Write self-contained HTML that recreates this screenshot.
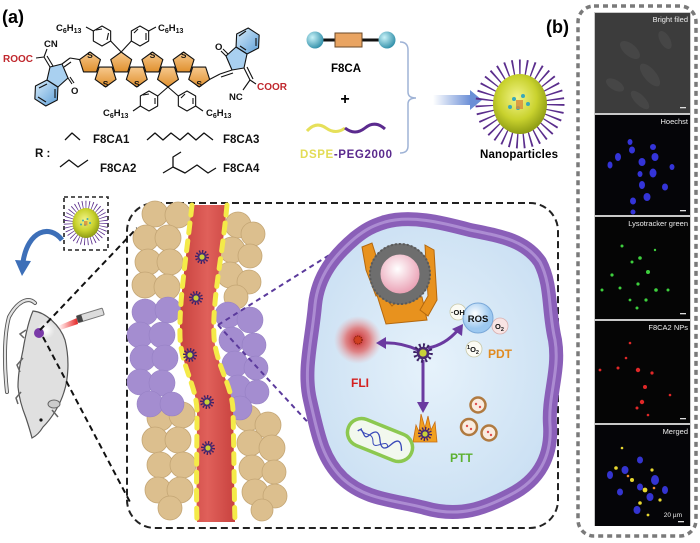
<!DOCTYPE html>
<html><head><meta charset="utf-8"><style>
html,body{margin:0;padding:0;background:#fff;}
svg{display:block;font-family:"Liberation Sans",Arial,sans-serif;}
</style></head><body>
<svg width="700" height="543" viewBox="0 0 700 543" xmlns="http://www.w3.org/2000/svg">
<defs>
<radialGradient id="npg" cx="0.45" cy="0.4" r="0.6"><stop offset="0" stop-color="#f2f48a"/><stop offset="0.6" stop-color="#c9d22e"/><stop offset="1" stop-color="#8e9c14"/></radialGradient>
<linearGradient id="org" x1="0" y1="0" x2="0" y2="1"><stop offset="0" stop-color="#f7c98e"/><stop offset="1" stop-color="#e0902e"/></linearGradient>
<linearGradient id="blu" x1="0" y1="0" x2="1" y2="1"><stop offset="0" stop-color="#d8ecfa"/><stop offset="1" stop-color="#5e9fd8"/></linearGradient>
<radialGradient id="teal" cx="0.35" cy="0.35" r="0.7"><stop offset="0" stop-color="#c8f2f8"/><stop offset="1" stop-color="#2f8ea8"/></radialGradient>
<linearGradient id="arr" x1="0" y1="0" x2="1" y2="0"><stop offset="0" stop-color="#ffffff"/><stop offset="1" stop-color="#6a8ed6"/></linearGradient>
<linearGradient id="ves" x1="0" y1="0" x2="1" y2="0"><stop offset="0" stop-color="#c8423e"/><stop offset="0.5" stop-color="#e0605a"/><stop offset="1" stop-color="#c8423e"/></linearGradient>
<radialGradient id="fli"><stop offset="0" stop-color="#c82424"/><stop offset="0.5" stop-color="#e06a6a" stop-opacity="0.8"/><stop offset="1" stop-color="#f0a0a0" stop-opacity="0"/></radialGradient>
<radialGradient id="pink" cx="0.45" cy="0.4"><stop offset="0" stop-color="#ffffff"/><stop offset="1" stop-color="#eaa0b4"/></radialGradient>
<radialGradient id="bub" cx="0.4" cy="0.35"><stop offset="0" stop-color="#ffffff"/><stop offset="1" stop-color="#9cc8f0"/></radialGradient>
<linearGradient id="beam" x1="0" y1="0" x2="1" y2="0"><stop offset="0" stop-color="#ff4040" stop-opacity="0"/><stop offset="1" stop-color="#e02020"/></linearGradient>
<radialGradient id="cellin" cx="0.5" cy="0.5" r="0.6"><stop offset="0" stop-color="#e6f2fb"/><stop offset="1" stop-color="#c8def2"/></radialGradient>
<radialGradient id="flash"><stop offset="0" stop-color="#ffffff"/><stop offset="1" stop-color="#ffffff" stop-opacity="0"/></radialGradient>
<g id="np">
<circle r="35" fill="none" stroke="#5a2d8c" stroke-width="19" stroke-dasharray="1.5 4.8"/>
<ellipse rx="27" ry="30" fill="url(#npg)"/>
<circle cx="-6" cy="-5" r="2" fill="#3aa8b8"/><circle cx="3" cy="-8" r="2" fill="#3aa8b8"/><circle cx="8" cy="0" r="2" fill="#3aa8b8"/><circle cx="-2" cy="4" r="2" fill="#3aa8b8"/><circle cx="-10" cy="3" r="2" fill="#3aa8b8"/>
<rect x="-4" y="-4" width="7" height="9" fill="#d88a3a" opacity="0.8"/>
</g>
<g id="snp">
<circle r="5" fill="none" stroke="#3e2266" stroke-width="4" stroke-dasharray="1.2 1.4"/>
<circle r="4.5" fill="#4a2a74"/>
<circle r="2.6" fill="#c8d238"/>
</g>
</defs>

<!-- ===== (a) top: chemical structure ===== -->
<text x="2" y="23" font-size="18" font-weight="bold">(a)</text>

<g stroke="#111" stroke-width="1.1" stroke-linejoin="round">
<g fill="url(#org)">
<polygon points="90,52 100.46,59.6 96.47,71.9 83.53,71.9 79.54,59.6"/>
<polygon points="105.6,87 116.06,79.4 112.07,67.1 99.13,67.1 95.14,79.4"/>
<polygon points="121.2,52 131.66,59.6 127.67,71.9 114.73,71.9 110.74,59.6"/>
<polygon points="136.8,87 147.26,79.4 143.27,67.1 130.33,67.1 126.34,79.4"/>
<polygon points="152.4,52 162.86,59.6 158.87,71.9 145.93,71.9 141.94,59.6"/>
<polygon points="168,87 178.46,79.4 174.47,67.1 161.53,67.1 157.54,79.4"/>
<polygon points="183.6,52 194.06,59.6 190.07,71.9 177.13,71.9 173.14,59.6"/>
<polygon points="199.2,87 209.66,79.4 205.67,67.1 192.73,67.1 188.74,79.4"/>
</g>
<g fill="#fff">
<polygon points="102,26 110.66,31 110.66,41 102,46 93.34,41 93.34,31"/>
<polygon points="140,26 148.66,31 148.66,41 140,46 131.34,41 131.34,31"/>
<polygon points="149,91 157.66,96 157.66,106 149,111 140.34,106 140.34,96"/>
<polygon points="187,91 195.66,96 195.66,106 187,111 178.34,106 178.34,96"/>
</g>
<g fill="none">
<polyline points="96,30 102,29"/><polyline points="107,40 108.5,33"/>
<polyline points="134,33 138,29"/><polyline points="146,40 146,33"/>
<polyline points="143,95 149,94"/><polyline points="155,104 155,98"/>
<polyline points="181,98 185,94"/><polyline points="193,104 193,98"/>
<line x1="121.2" y1="52" x2="110.66" y2="41"/>
<line x1="121.2" y1="52" x2="131.34" y2="41"/>
<line x1="168" y1="87" x2="157.66" y2="96"/>
<line x1="168" y1="87" x2="178.34" y2="96"/>
<line x1="93.34" y1="31" x2="86" y2="27"/>
<line x1="148.66" y1="31" x2="156" y2="27"/>
<line x1="140.34" y1="106" x2="133" y2="111"/>
<line x1="195.66" y1="106" x2="203" y2="111"/>
</g>
<polygon points="57.95,87.04 57.34,100.02 45.79,105.99 34.85,98.96 35.46,85.98 47.01,80.01" fill="url(#blu)"/>
<polygon points="62,64 68,78 58,87 47,80 50,67" fill="#a9d0f0"/>
<g fill="none">
<polyline points="39,88 47,84"/><polyline points="38,97 46,102"/><polyline points="55,89 55,98"/>
<line x1="62" y1="64" x2="70" y2="58"/><line x1="64" y1="67" x2="71" y2="62"/>
<line x1="70" y1="58" x2="79.54" y2="59.6"/>
<line x1="68" y1="78" x2="72" y2="84"/><line x1="70" y1="77" x2="74" y2="83"/>
<line x1="50" y1="67" x2="44" y2="57"/><line x1="53" y1="66" x2="47" y2="56"/>
<line x1="44" y1="57" x2="36" y2="58"/>
<line x1="44" y1="57" x2="47" y2="49"/>
</g>
<polygon points="236.05,46.96 236.66,33.98 248.21,28.01 259.15,35.04 258.54,48.02 246.99,53.99" fill="url(#blu)"/>
<polygon points="232,70 226,56 236,47 247,54 244,68" fill="#a9d0f0"/>
<g fill="none">
<polyline points="239,36 246,31"/><polyline points="256,38 256,46"/><polyline points="240,46 246,50"/>
<line x1="209.66" y1="79.4" x2="220" y2="74"/>
<line x1="220" y1="74" x2="232" y2="70"/><line x1="221" y1="77" x2="233" y2="73"/>
<line x1="226" y1="56" x2="221" y2="51"/><line x1="228" y1="54" x2="223" y2="49"/>
<line x1="244" y1="68" x2="250" y2="80"/><line x1="247" y1="67" x2="253" y2="79"/>
<line x1="250" y1="80" x2="256" y2="84"/>
<line x1="250" y1="80" x2="243" y2="90"/>
</g>
</g>
<g font-size="8.5" font-weight="bold" text-anchor="middle" fill="#111">
<text x="90" y="58">S</text><text x="105.6" y="87">S</text><text x="136.8" y="87">S</text>
<text x="152.4" y="58">S</text><text x="183.6" y="58">S</text><text x="199.2" y="87">S</text>
</g>
<g font-size="9.5" font-weight="bold" fill="#111">
<text x="56" y="31">C<tspan font-size="7" dy="2">6</tspan><tspan dy="-2">H</tspan><tspan font-size="7" dy="2">13</tspan></text>
<text x="158" y="31">C<tspan font-size="7" dy="2">6</tspan><tspan dy="-2">H</tspan><tspan font-size="7" dy="2">13</tspan></text>
<text x="103" y="116">C<tspan font-size="7" dy="2">6</tspan><tspan dy="-2">H</tspan><tspan font-size="7" dy="2">13</tspan></text>
<text x="206" y="116">C<tspan font-size="7" dy="2">6</tspan><tspan dy="-2">H</tspan><tspan font-size="7" dy="2">13</tspan></text>
<text x="44" y="47">CN</text>
<text x="229" y="100">NC</text>
<text x="71" y="94">O</text>
<text x="215" y="50">O</text>
</g>
<g font-size="10" font-weight="bold" fill="#c0272d">
<text x="3" y="62">ROOC</text>
<text x="257" y="90">COOR</text>
</g>
<g stroke="#111" stroke-width="1.3" fill="none" stroke-linejoin="round">
<polyline points="65,140 72,133 80,140"/>
<polyline points="147,140 155,133 163,140 171,133 180,140 188,133 196,140 204,133 213,140"/>
<polyline points="60,167 69,160 78,167 88,160"/>
<polyline points="163,173 173,167 185,173 197,165 208,173 216,168"/>
<polyline points="173,167 173,157 181,152"/>
</g>
<g font-size="11.5" font-weight="bold" fill="#111">
<text x="35" y="157">R :</text>
<text x="93" y="143">F8CA1</text>
<text x="223" y="143">F8CA3</text>
<text x="100" y="172">F8CA2</text>
<text x="223" y="172">F8CA4</text>
</g>

<!-- F8CA schematic -->
<line x1="315" y1="40" x2="387" y2="40" stroke="#111" stroke-width="3"/>
<rect x="335" y="33" width="27" height="14" fill="#e9a462" stroke="#6b4a2a" stroke-width="1"/>
<circle cx="315" cy="40" r="8.5" fill="url(#teal)"/>
<circle cx="387" cy="40" r="8.5" fill="url(#teal)"/>
<text x="346" y="72" font-size="11.5" font-weight="bold" text-anchor="middle">F8CA</text>
<text x="345" y="104" font-size="16" font-weight="bold" text-anchor="middle">+</text>
<path d="M307,131 Q316,121 326,128 T345,128" stroke="#e6e05a" stroke-width="3" fill="none"/>
<path d="M345,128 Q355,136 365,128 T385,129" stroke="#5b2a8e" stroke-width="3" fill="none"/>
<text x="300" y="158" font-size="11.5" font-weight="bold" textLength="92"><tspan fill="#e3dc56">DSPE</tspan><tspan fill="#5b2a8e">-PEG2000</tspan></text>
<path d="M400,42 Q408,42 408,50 L408,92 Q408,98 416,98 Q408,98 408,104 L408,146 Q408,153 400,153" stroke="#9fb3d6" stroke-width="1.5" fill="none"/>
<rect x="433" y="95" width="38" height="10" fill="url(#arr)"/>
<polygon points="470,90 482,100 470,110" fill="#6a8ed6"/>
<use href="#np" transform="translate(520,104)"/>
<text x="519" y="158" font-size="11.5" font-weight="bold" text-anchor="middle" textLength="78">Nanoparticles</text>

<!-- ===== (b) panel ===== -->
<text x="546" y="33" font-size="18" font-weight="bold">(b)</text>
<rect x="578" y="6" width="118" height="530" rx="16" fill="none" stroke="#7a7a7a" stroke-width="3.5" stroke-dasharray="5 4"/>
<rect x="594" y="12" width="97" height="514" fill="#c8c8c8"/>
<rect x="595" y="13" width="95" height="100" fill="#3c3c3c"/>
<g fill="#4e4e4e" opacity="0.6">
<ellipse cx="630" cy="50" rx="12" ry="6" transform="rotate(40 630 50)"/><ellipse cx="650" cy="75" rx="14" ry="6" transform="rotate(50 650 75)"/>
<ellipse cx="615" cy="85" rx="10" ry="5" transform="rotate(30 615 85)"/><ellipse cx="665" cy="40" rx="10" ry="5" transform="rotate(60 665 40)"/>
<ellipse cx="640" cy="100" rx="12" ry="5" transform="rotate(45 640 100)"/>
</g>
<rect x="595" y="115" width="95" height="100" fill="#050508"/>
<g fill="#3434d8">
<ellipse cx="618" cy="157" rx="3" ry="4"/><ellipse cx="632" cy="150" rx="3" ry="3.5"/><ellipse cx="642" cy="162" rx="3.5" ry="4"/>
<ellipse cx="655" cy="157" rx="3.5" ry="4"/><ellipse cx="653" cy="173" rx="3.5" ry="4.5"/><ellipse cx="642" cy="185" rx="3" ry="4"/>
<ellipse cx="647" cy="197" rx="3.5" ry="4"/><ellipse cx="633" cy="201" rx="3" ry="3.5"/><ellipse cx="665" cy="187" rx="3" ry="3.5"/>
<ellipse cx="610" cy="165" rx="2.5" ry="3.5"/><ellipse cx="630" cy="142" rx="2.5" ry="3"/><ellipse cx="653" cy="147" rx="3" ry="3"/>
<ellipse cx="672" cy="167" rx="2.5" ry="3"/><ellipse cx="640" cy="174" rx="2.5" ry="3"/><ellipse cx="633" cy="212" rx="2.5" ry="2.5"/>
</g>
<rect x="595" y="217" width="95" height="102" fill="#050505"/>
<g fill="#3ed03e">
<circle cx="622" cy="246" r="1.5"/><circle cx="640" cy="258" r="1.8"/><circle cx="632" cy="262" r="1.5"/><circle cx="612" cy="275" r="1.6"/>
<circle cx="648" cy="272" r="2"/><circle cx="638" cy="284" r="1.6"/><circle cx="620" cy="288" r="1.5"/><circle cx="602" cy="290" r="1.5"/>
<circle cx="656" cy="290" r="1.8"/><circle cx="646" cy="300" r="1.6"/><circle cx="668" cy="290" r="1.5"/><circle cx="637" cy="308" r="1.5"/>
<circle cx="630" cy="300" r="1.4"/><circle cx="655" cy="250" r="1.2"/>
</g>
<rect x="595" y="321" width="95" height="102" fill="#050505"/>
<g fill="#e02828">
<circle cx="638" cy="370" r="2.2"/><circle cx="645" cy="387" r="2"/><circle cx="642" cy="402" r="2.2"/><circle cx="618" cy="368" r="1.5"/>
<circle cx="630" cy="343" r="1.3"/><circle cx="600" cy="370" r="1.4"/><circle cx="652" cy="373" r="1.6"/><circle cx="637" cy="408" r="1.5"/>
<circle cx="670" cy="395" r="1.3"/><circle cx="626" cy="358" r="1.3"/><circle cx="648" cy="415" r="1.3"/>
</g>
<rect x="595" y="425" width="95" height="101" fill="#050508"/>
<g fill="#3434d0">
<ellipse cx="610" cy="475" rx="3" ry="4"/><ellipse cx="625" cy="470" rx="3.5" ry="4"/><ellipse cx="640" cy="460" rx="3" ry="3.5"/>
<ellipse cx="655" cy="480" rx="4" ry="5"/><ellipse cx="650" cy="497" rx="3.5" ry="4"/><ellipse cx="665" cy="490" rx="3" ry="4"/>
<ellipse cx="640" cy="487" rx="3" ry="3.5"/><ellipse cx="637" cy="510" rx="3.5" ry="4"/><ellipse cx="620" cy="492" rx="3" ry="3.5"/>
</g>
<g fill="#e8d830">
<circle cx="616" cy="468" r="1.8"/><circle cx="632" cy="480" r="2"/><circle cx="645" cy="490" r="2.4"/><circle cx="652" cy="470" r="1.6"/>
<circle cx="640" cy="503" r="1.8"/><circle cx="660" cy="500" r="1.6"/><circle cx="622" cy="448" r="1.3"/><circle cx="648" cy="515" r="1.4"/>
</g>
<g fill="#ee8a2a"><circle cx="628" cy="476" r="1.3"/><circle cx="654" cy="488" r="1.3"/></g>
<g fill="#eee" font-size="7.5" text-anchor="end">
<text x="688" y="22">Bright filed</text>
<text x="688" y="124">Hoechst</text>
<text x="688" y="226">Lysotracker green</text>
<text x="688" y="330">F8CA2 NPs</text>
<text x="688" y="434">Merged</text>
<text x="682" y="517" font-size="6.5">20 µm</text>
</g>
<g fill="#ddd">
<rect x="680" y="107" width="6" height="1.3"/><rect x="680" y="210" width="6" height="1.3"/><rect x="680" y="313" width="6" height="1.3"/>
<rect x="680" y="418" width="6" height="1.3"/><rect x="678" y="521" width="6" height="1.3"/>
</g>

<!-- ===== lower part ===== -->
<rect x="127" y="203" width="431" height="325" rx="28" fill="none" stroke="#222" stroke-width="2" stroke-dasharray="7 4"/>

<!-- mouse -->
<path d="M35,303 C28,296 17,302 9,317 C4,335 4,365 7,392" stroke="#555" stroke-width="4" fill="none" stroke-linecap="round"/>
<path d="M35,303 C28,296 17,302 9,317 C4,335 4,365 7,392" stroke="#e2e2e2" stroke-width="2.2" fill="none" stroke-linecap="round"/>
<path d="M33,311 C45,312 60,325 65,340 C70,360 68,380 64,392 C60,405 52,418 43,427 C40,432 36,436 32,438 C30,430 28,424 26,418 C22,408 19,398 18,387 C18,372 21,360 23,350 C25,338 28,322 33,311 Z" fill="#e0e0e0" stroke="#555" stroke-width="1.2"/>
<path d="M26,330 L20,334 L24,338 M23,358 L17,365 L20,372 M21,392 L16,398 L18,404 M52,410 L58,417" stroke="#666" stroke-width="1.5" fill="none"/>
<ellipse cx="54" cy="404" rx="6" ry="4" fill="#cccccc" stroke="#666" stroke-width="1"/>
<circle cx="41" cy="420" r="1.6" fill="#111"/>
<circle cx="46" cy="330" r="9" fill="url(#flash)"/>
<circle cx="39" cy="333" r="5" fill="#7a3aa8"/>
<polygon points="58,326 77,318 78,324 60,330" fill="url(#beam)"/>
<g transform="rotate(-17 90 316)"><rect x="77" y="312" width="27" height="7" rx="1" fill="#dcdcdc" stroke="#777" stroke-width="1"/><rect x="77" y="312" width="5" height="7" fill="#444"/></g>
<!-- blue curved arrow -->
<path d="M62,240 C50,224 28,230 23,262" stroke="#3d6fb8" stroke-width="5" fill="none"/>
<polygon points="15,260 31,261 22,276" fill="#3d6fb8"/>
<!-- small NP box -->
<rect x="64" y="197" width="44" height="53" fill="none" stroke="#222" stroke-width="1.6" stroke-dasharray="4 3"/>
<use href="#np" transform="translate(86,223) scale(0.5)"/>
<line x1="40" y1="330" x2="137" y2="228" stroke="#111" stroke-width="2" stroke-dasharray="6 4"/>
<line x1="43" y1="337" x2="130" y2="502" stroke="#111" stroke-width="2" stroke-dasharray="6 4"/>

<!-- tissue clusters -->
<g fill="#dcbf8e" stroke="#c4a675" stroke-width="0.8">
<circle cx="155" cy="214" r="13"/><circle cx="178" cy="215" r="13"/><circle cx="146" cy="238" r="13"/><circle cx="168" cy="238" r="13"/>
<circle cx="148" cy="262" r="13"/><circle cx="170" cy="262" r="13"/><circle cx="145" cy="285" r="13"/><circle cx="167" cy="287" r="13"/>
<circle cx="238" cy="225" r="13"/><circle cx="253" cy="234" r="12"/><circle cx="232" cy="250" r="13"/><circle cx="250" cy="256" r="12"/>
<circle cx="230" cy="275" r="13"/><circle cx="249" cy="282" r="12"/><circle cx="236" cy="297" r="12"/>
<circle cx="160" cy="418" r="13"/><circle cx="182" cy="415" r="13"/><circle cx="155" cy="440" r="13"/><circle cx="178" cy="440" r="13"/>
<circle cx="160" cy="465" r="13"/><circle cx="183" cy="465" r="13"/><circle cx="158" cy="490" r="13"/><circle cx="180" cy="490" r="13"/><circle cx="170" cy="508" r="12"/>
<circle cx="248" cy="418" r="13"/><circle cx="268" cy="425" r="13"/><circle cx="250" cy="443" r="13"/><circle cx="272" cy="448" r="13"/>
<circle cx="252" cy="468" r="13"/><circle cx="274" cy="472" r="12"/><circle cx="255" cy="492" r="13"/><circle cx="275" cy="496" r="12"/><circle cx="262" cy="510" r="11"/>
</g>
<g fill="#a48dd0" stroke="#9680c4" stroke-width="0.6">
<circle cx="145" cy="312" r="13"/><circle cx="168" cy="310" r="13"/><circle cx="140" cy="335" r="13"/><circle cx="162" cy="335" r="13"/>
<circle cx="143" cy="358" r="13"/><circle cx="165" cy="358" r="13"/><circle cx="140" cy="382" r="13"/><circle cx="162" cy="383" r="13"/>
<circle cx="150" cy="404" r="13"/><circle cx="172" cy="404" r="12"/>
<circle cx="228" cy="315" r="13"/><circle cx="250" cy="320" r="13"/><circle cx="232" cy="340" r="13"/><circle cx="254" cy="345" r="12"/>
<circle cx="235" cy="364" r="13"/><circle cx="256" cy="368" r="12"/><circle cx="238" cy="388" r="13"/><circle cx="257" cy="392" r="12"/><circle cx="240" cy="408" r="12"/>
</g>
<!-- vessel -->
<path d="M192,205 L227,205 C222,260 212,300 214,337 C216,365 232,385 233,410 C234,450 234,490 235,522 L197,522 C196,490 197,450 197,410 C196,385 181,365 180,337 C179,300 186,260 192,205 Z" fill="url(#ves)"/>
<path d="M192,205 C186,260 179,300 180,337 C181,365 196,385 197,410 C197,450 196,490 197,522" stroke="#f4ea48" stroke-width="5" fill="none" stroke-dasharray="10 8" stroke-linecap="round"/>
<path d="M227,205 C222,260 212,300 214,337 C216,365 232,385 233,410 C234,450 234,490 235,522" stroke="#f4ea48" stroke-width="5" fill="none" stroke-dasharray="10 8" stroke-linecap="round"/>
<use href="#snp" transform="translate(202,257)"/>
<use href="#snp" transform="translate(196,298)"/>
<use href="#snp" transform="translate(190,355)"/>
<use href="#snp" transform="translate(207,402)"/>
<use href="#snp" transform="translate(208,448)"/>

<line x1="218" y1="325" x2="393" y2="215" stroke="#5b3a9c" stroke-width="2" stroke-dasharray="5 4"/>
<line x1="218" y1="325" x2="363" y2="482" stroke="#5b3a9c" stroke-width="2" stroke-dasharray="5 4"/>

<!-- cell -->
<path d="M385,222 C410,215 440,222 470,230 C500,236 525,240 540,262 C552,285 548,310 555,340 C560,370 548,395 550,425 C552,455 540,480 510,495 C485,508 460,518 425,508 C395,500 365,500 342,478 C322,458 318,435 310,400 C303,370 312,340 315,305 C318,275 335,255 355,238 C365,230 372,226 385,222 Z" fill="url(#cellin)" stroke="#8a5fb8" stroke-width="14"/>
<path d="M385,222 C410,215 440,222 470,230 C500,236 525,240 540,262 C552,285 548,310 555,340 C560,370 548,395 550,425 C552,455 540,480 510,495 C485,508 460,518 425,508 C395,500 365,500 342,478 C322,458 318,435 310,400 C303,370 312,340 315,305 C318,275 335,255 355,238 C365,230 372,226 385,222 Z" fill="none" stroke="#b497d8" stroke-width="3" opacity="0.8"/>
<g fill="#e8921e" stroke="#b4680e" stroke-width="1">
<path d="M362,247 L372,243 L378,262 L374,268 L383,292 L376,296 L366,270 Z"/>
<path d="M376,292 L422,297 L427,320 L386,324 Z"/>
<path d="M425,245 L434,250 L437,300 L428,316 L420,310 L428,296 Z"/>
<path d="M384,284 L398,300 L392,306 L380,292 Z"/>
</g>
<circle cx="400" cy="274" r="25" fill="url(#pink)" stroke="#6e6e6e" stroke-width="11"/>
<circle cx="400" cy="274" r="30" fill="none" stroke="#5a5a5a" stroke-width="2" stroke-dasharray="2 2"/>
<circle cx="358" cy="340" r="24" fill="url(#fli)"/>
<circle cx="358" cy="340" r="4" fill="#d04020" stroke="#8a2010" stroke-width="1.5" stroke-dasharray="1 1"/>
<text x="351" y="387" font-size="12" font-weight="bold" fill="#d42020">FLI</text>
<g stroke="#6a3aa0" stroke-width="3" fill="none">
<path d="M418,350 Q400,342 383,343"/>
<path d="M428,348 Q445,345 458,330"/>
<path d="M423,360 L423,405"/>
</g>
<g fill="#6a3aa0">
<polygon points="376,343 386,337 386,349"/>
<polygon points="463,324 462,336 452,329"/>
<polygon points="423,413 417,402 429,402"/>
</g>
<use href="#snp" transform="translate(423,353) scale(1.4)"/>
<circle cx="458" cy="312" r="8" fill="#fbfbf4" stroke="#c8c8a8" stroke-width="0.8"/>
<circle cx="500" cy="326" r="8" fill="#f8e4e4" stroke="#d8b0b0" stroke-width="0.8"/>
<circle cx="474" cy="349" r="8" fill="#fbfbf4" stroke="#c8c8a8" stroke-width="0.8"/>
<circle cx="478" cy="318" r="15" fill="url(#bub)" stroke="#7aa8d8" stroke-width="1"/>
<g font-weight="bold" fill="#111">
<text x="478" y="322" font-size="9.5" text-anchor="middle">ROS</text>
<text x="451" y="315" font-size="7.5">·OH</text>
<text x="495" y="329" font-size="7.5">O<tspan font-size="5.5" dy="2">2</tspan></text>
<text x="467" y="352" font-size="7.5"><tspan font-size="5.5" dy="-3">1</tspan><tspan dy="3">O</tspan><tspan font-size="5.5" dy="2">2</tspan></text>
</g>
<text x="488" y="358" font-size="12" font-weight="bold" fill="#e08a20">PDT</text>
<g fill="#f0a020" stroke="#c86a10" stroke-width="0.8">
<path d="M413,442 L416,425 L419,432 L421,414 L425,428 L428,416 L431,430 L435,422 L437,442 Z"/>
</g>
<use href="#snp" transform="translate(425,434)"/>
<text x="450" y="462" font-size="12" font-weight="bold" fill="#5cb030">PTT</text>
<g fill="#faece0" stroke="#b07a40" stroke-width="2.5">
<circle cx="478" cy="405" r="7.5"/><circle cx="469" cy="427" r="8"/><circle cx="489" cy="433" r="7.5"/>
</g>
<g fill="#e05050"><circle cx="476" cy="404" r="1.2"/><circle cx="480" cy="407" r="1.2"/><circle cx="467" cy="426" r="1.2"/><circle cx="471" cy="429" r="1.2"/><circle cx="488" cy="432" r="1.2"/><circle cx="491" cy="435" r="1.2"/></g>
<g transform="translate(380,440) rotate(22)">
<rect x="-34" y="-14" width="68" height="28" rx="14" fill="#f2f8ee" stroke="#8cc850" stroke-width="3.5"/>
<path d="M-24,0 C-20,-8 -16,8 -12,0 S-4,-8 0,0 S8,8 12,0 S20,-8 24,2" stroke="#3848b8" stroke-width="1.3" fill="none"/>
<path d="M-22,-4 C-18,4 -10,-6 -6,4 S6,-6 10,4" stroke="#3848b8" stroke-width="1" fill="none"/>
</g>
</svg>
</body></html>
